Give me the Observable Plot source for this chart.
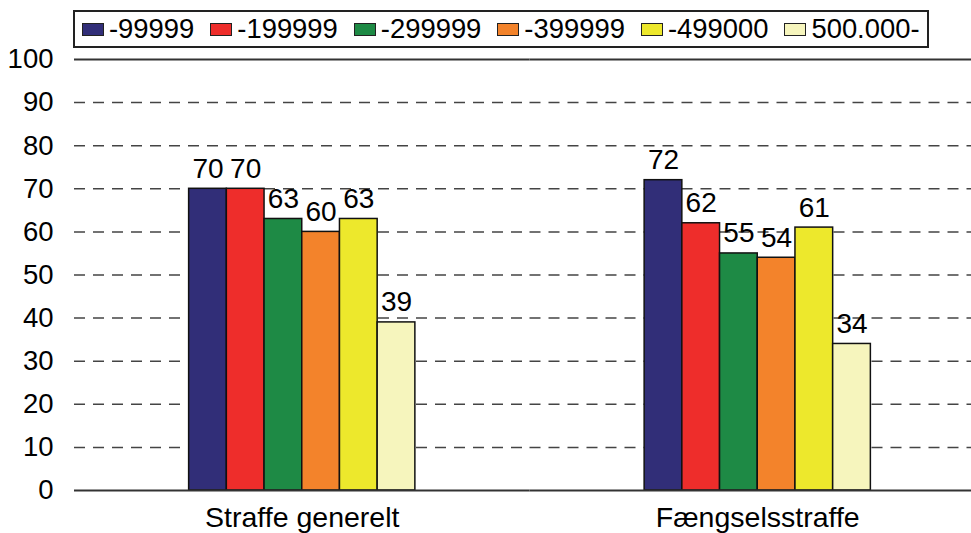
<!DOCTYPE html>
<html>
<head>
<meta charset="utf-8">
<script src="https://cdn.jsdelivr.net/npm/d3@7"></script>
<script src="https://cdn.jsdelivr.net/npm/@observablehq/plot@0.6"></script>
<style>
  html, body { margin: 0; padding: 0; background: #fff; overflow: hidden; }
  body { width: 971px; height: 533px; font-family: "Liberation Sans", Arial, sans-serif; }
  #legend { position: relative; height: 30px; z-index: 2; }
  #legend .box { position: absolute; left: 73px; top: 10px; width: 856px; height: 38px; box-sizing: border-box; background: #fff;
    border: 2px solid #222; display: flex; align-items: center; padding-left: 7px; }
  #legend .item { display: flex; align-items: center; margin-right: 16px; }
  #legend .sw { width: 22px; height: 13px; box-sizing: border-box; border: 1.5px solid #222; margin-right: 5px; }
  #legend .lbl { font-size: 27.4px; color: #000; line-height: 1; }
  #chart svg { display: block; overflow: visible; max-width: none !important; }
</style>
</head>
<body>
<div id="legend"><div class="box"></div></div>
<div id="chart"></div>
<script>
const groups = ["Straffe generelt", "Fængselsstraffe"];
const series = ["-99999", "-199999", "-299999", "-399999", "-499000", "500.000-"];
const colors = ["#312e78", "#ee2d2b", "#1e8a45", "#f3832b", "#ede82c", "#f6f5bd"];
const valuesGenerelt = [70, 70, 63, 60, 63, 39];
const valuesFaengsel = [72, 62, 55, 54, 61, 34];
const yTicks = [0, 10, 20, 30, 40, 50, 60, 70, 80, 90, 100];
const gridTicks = [10, 20, 30, 40, 50, 60, 70, 80, 90];

const data = [];
[valuesGenerelt, valuesFaengsel].forEach((vals, gi) => {
  vals.forEach((v, si) => data.push({group: groups[gi], series: series[si], value: v}));
});

// legend
const box = document.querySelector("#legend .box");
series.forEach((s, i) => {
  const it = document.createElement("div");
  it.className = "item";
  const sw = document.createElement("div");
  sw.className = "sw";
  sw.style.background = colors[i];
  const lb = document.createElement("span");
  lb.className = "lbl";
  lb.textContent = s;
  it.appendChild(sw); it.appendChild(lb);
  box.appendChild(it);
});

const chart = Plot.plot({
  width: 985,
  height: 503,
  marginLeft: 74,
  marginRight: 0,
  marginTop: 29,
  marginBottom: 43,
  style: {fontFamily: "Liberation Sans, Arial, sans-serif", color: "#000", background: "#fff", overflow: "visible", maxWidth: "none"},
  fx: {domain: groups, padding: 0, round: false},
  x: {domain: series, paddingInner: 0, paddingOuter: 3.04, round: false, axis: null},
  y: {domain: [0, 100]},
  color: {domain: series, range: colors},
  marks: [
    Plot.ruleY(gridTicks, {stroke: "#444", strokeWidth: 1.5, strokeDasharray: "11,8"}),
    Plot.barY(data, {fx: "group", x: "series", y: "value", fill: "series", stroke: "#111", strokeWidth: 1.5}),
    Plot.text(data, {fx: "group", x: "series", y: "value", text: d => String(d.value), lineAnchor: "bottom", dy: -11, fontSize: 28, fill: "#000"}),
    Plot.ruleY([0, 100], {stroke: "#333", strokeWidth: 2}),
    Plot.axisY({ticks: yTicks, tickSize: 0, tickPadding: 21, fontSize: 27.5, label: null, line: true, stroke: "#333", strokeWidth: 2}),
    Plot.axisFx({anchor: "bottom", tickSize: 0, tickPadding: 16, fontSize: 28.5, label: null})
  ]
});
document.getElementById("chart").appendChild(chart);
</script>
</body>
</html>
